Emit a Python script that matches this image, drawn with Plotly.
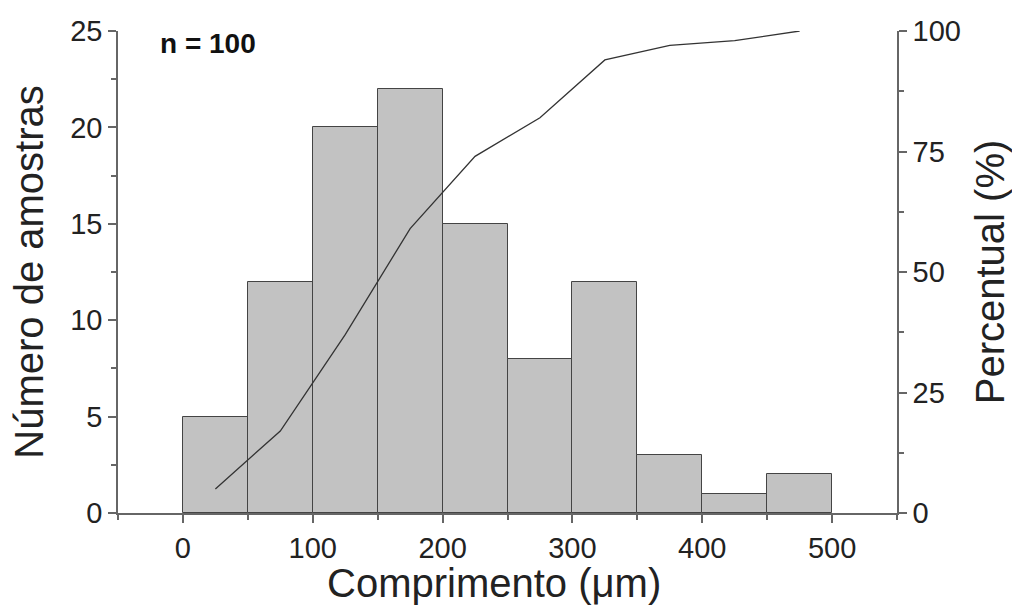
import plotly.graph_objects as go

# Data
bin_starts = [0, 50, 100, 150, 200, 250, 300, 350, 400, 450]
bin_width = 50
counts = [5, 12, 20, 22, 15, 8, 12, 3, 1, 2]
cum_percent = [5, 17, 37, 59, 74, 82, 94, 97, 98, 100]

mids = [s + bin_width / 2 for s in bin_starts]

FONT = "Liberation Sans, Arial, sans-serif"
AX = "#666666"
TXT = "#222222"

fig = go.Figure()
fig.add_trace(go.Bar(
    x=mids, y=counts, width=[bin_width] * len(mids),
    marker=dict(color="#c2c2c2", line=dict(color="#444444", width=1)),
    showlegend=False, hoverinfo="x+y",
))
fig.add_trace(go.Scatter(
    x=mids, y=cum_percent, yaxis="y2", mode="lines",
    line=dict(color="#333333", width=1.3), showlegend=False,
))

tickfont = dict(family=FONT, size=29, color=TXT)
titlefont = dict(family=FONT, size=40, color=TXT)

fig.update_layout(
    width=1012, height=610,
    margin=dict(l=118, r=115, t=31, b=97, autoexpand=False),
    paper_bgcolor="white", plot_bgcolor="white",
    bargap=0,
    xaxis=dict(
        range=[-50, 550], tickmode="linear", tick0=0, dtick=100,
        ticks="outside", ticklen=8, tickwidth=1.5, tickcolor=AX,
        minor=dict(ticks="outside", ticklen=5, tickwidth=1.5, tickcolor=AX,
                   tick0=-50, dtick=50, showgrid=False),
        showline=True, linecolor=AX, linewidth=1.5,
        showgrid=False, zeroline=False,
        tickfont=tickfont,
        automargin=False,
    ),
    yaxis=dict(
        range=[0, 25], tickmode="linear", tick0=0, dtick=5,
        ticks="outside", ticklen=8, tickwidth=1.5, tickcolor=AX,
        minor=dict(ticks="outside", ticklen=5, tickwidth=1.5, tickcolor=AX,
                   tick0=0, dtick=2.5, showgrid=False),
        showline=True, linecolor=AX, linewidth=1.5,
        showgrid=False, zeroline=False,
        tickfont=tickfont,
        title=dict(text="Número de amostras", font=titlefont, standoff=14),
        automargin=False,
    ),
    yaxis2=dict(
        overlaying="y", side="right",
        range=[0, 100], tickmode="linear", tick0=0, dtick=25,
        ticks="outside", ticklen=8, tickwidth=1.5, tickcolor=AX,
        minor=dict(ticks="outside", ticklen=5, tickwidth=1.5, tickcolor=AX,
                   tick0=0, dtick=12.5, showgrid=False),
        showline=True, linecolor=AX, linewidth=1.5,
        showgrid=False, zeroline=False,
        tickfont=tickfont,
        title=dict(text="Percentual (%)", font=titlefont, standoff=18),
        automargin=False,
    ),
    annotations=[
        dict(
            text="<b>n = 100</b>", xref="paper", yref="paper",
            x=0.051, y=0.975, xanchor="left", yanchor="middle",
            showarrow=False, font=dict(family=FONT, size=28, color="#111111"),
        ),
        dict(
            text="Comprimento (μm)", xref="paper", yref="paper",
            x=0.483, y=-0.145, xanchor="center", yanchor="middle",
            showarrow=False, font=titlefont,
        ),
    ],
)

fig.write_html("out.html")
